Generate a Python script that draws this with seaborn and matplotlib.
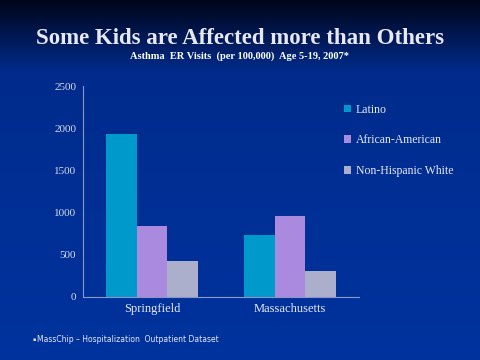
import numpy as np
import pandas as pd
import seaborn as sns
import matplotlib.pyplot as plt
from matplotlib.patches import Patch

# data
regions = ["Springfield", "Massachusetts"]
groups = ["Latino", "African-American", "Non-Hispanic White"]
latino = [1937, 740]
african_american = [846, 957]
nh_white = [432, 305]

colors = ["#0099CC", "#A98ADF", "#ABAFCB"]
txt = "#E8E8F4"

df = pd.DataFrame({
    "region": regions * 3,
    "group": [g for g in groups for _ in regions],
    "visits": latino + african_american + nh_white,
})

sns.set_style("white")
plt.rcParams["font.family"] = ["Liberation Serif", "DejaVu Serif"]

fig = plt.figure(figsize=(4.8, 3.6), dpi=100)

# slide background: dark at the top fading into blue
bg = fig.add_axes([0, 0, 1, 1], zorder=-10)
grad = np.linspace(0, 1, 360)
top = np.array([0.0, 0.02, 0.10])
mid = np.array([0.0, 0.17, 0.55])
bot = np.array([0.0, 0.20, 0.62])
rows = []
for t in grad:
    if t < 0.2:
        c = top + (mid - top) * (t / 0.2)
    else:
        c = mid + (bot - mid) * ((t - 0.2) / 0.8)
    rows.append(c)
img = np.array(rows)[:, None, :].repeat(2, axis=1)
bg.imshow(img, aspect="auto", extent=[0, 1, 0, 1])
bg.axis("off")

ax = fig.add_axes([0.173, 0.175, 0.575, 0.586])
ax.patch.set_alpha(0)
sns.barplot(data=df, x="region", y="visits", hue="group", palette=colors,
            width=0.67, saturation=1, ax=ax, legend=False,
            edgecolor="none", linewidth=0)

ax.set_ylim(0, 2500)
ax.set_yticks(range(0, 2501, 500))
ax.set_xlim(-0.5, 1.5)
ax.set_xlabel("")
ax.set_ylabel("")
for s in ["top", "right"]:
    ax.spines[s].set_visible(False)
for s in ["left", "bottom"]:
    ax.spines[s].set_color("#8C96C8")
    ax.spines[s].set_linewidth(0.8)
ax.set_xticks([0.5], minor=True)
ax.tick_params(axis="x", which="major", length=0, colors=txt, labelsize=9, pad=4)
ax.tick_params(axis="x", which="minor", length=3, direction="out", color="#8C96C8")
ax.tick_params(axis="y", length=3, direction="out", color="#8C96C8", colors="#D8DAEC",
               labelsize=8, pad=2)

handles = [Patch(facecolor=c, edgecolor="none") for c in colors]
fig.legend(handles, groups, loc="upper left", bbox_to_anchor=(0.695, 0.742),
           frameon=False, fontsize=8.5, labelcolor=txt, handlelength=0.6,
           handleheight=0.6, handletextpad=0.4, labelspacing=1.6)

fig.text(0.5, 0.893, "Some Kids are Affected more than Others", ha="center",
         va="center", color=txt, fontsize=16.5, fontweight="bold")
fig.text(0.5, 0.845, "Asthma  ER Visits  (per 100,000)  Age 5-19, 2007*", ha="center",
         va="center", color="white", fontsize=7.5, fontweight="bold")
fig.text(0.067, 0.058, "\u25aa", ha="left", va="center", color=txt, fontsize=3.5,
         family="DejaVu Sans")
fig.text(0.078, 0.058, "MassChip \u2013 Hospitalization  Outpatient Dataset",
         ha="left", va="center", color=txt, fontsize=5.5, family="DejaVu Sans")

fig.savefig("out.png", dpi=100)
